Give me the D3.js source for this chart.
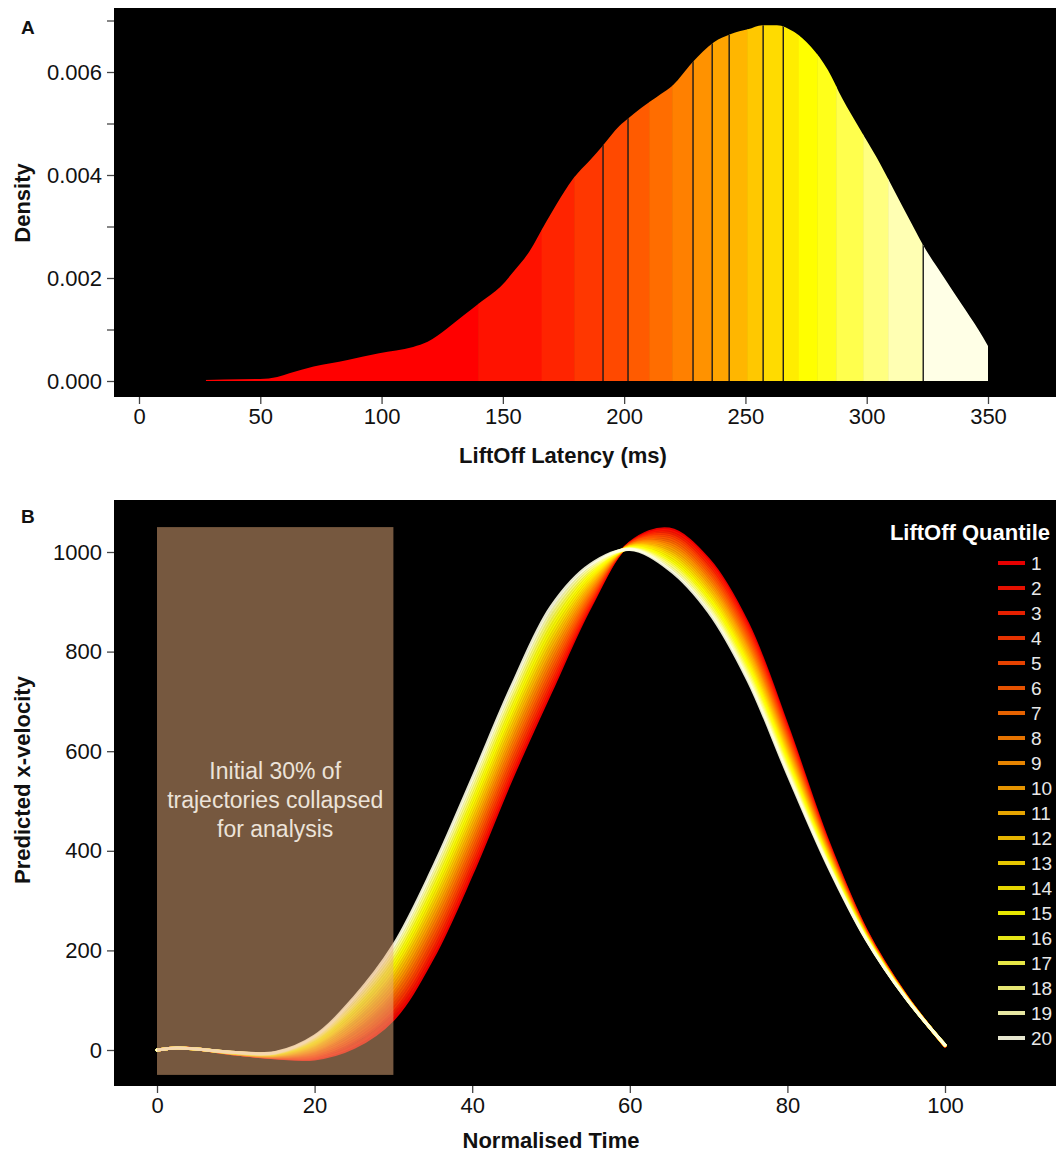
<!DOCTYPE html>
<html><head><meta charset="utf-8">
<script src="https://cdn.jsdelivr.net/npm/d3@7"></script>
<style>
html,body{margin:0;padding:0;background:#fff;}
svg{display:block;font-family:"Liberation Sans",Arial,sans-serif;}
</style></head>
<body><svg id="c" width="1056" height="1155"></svg>
<script>
// ---------- Panel A data ----------
const latencyMs = [27,35,50,57,62,72,86,99,113,119,127,134,141,149,154,161,168,172,179,186,191,198,202,207,215,220,228,237,244,251,257,263,270,277,284,290,297,304,311,318,323,332,339,346,350];
const densityVals = [0.00002,0.00003,0.00004,0.00008,0.00015,0.00028,0.00041,0.00054,0.00066,0.00076,0.00102,0.00128,0.00154,0.00183,0.00210,0.00252,0.00310,0.00342,0.00393,0.00429,0.00456,0.00495,0.00511,0.00530,0.00557,0.00574,0.00618,0.00658,0.00674,0.00683,0.00691,0.00691,0.00678,0.00649,0.00604,0.00548,0.00491,0.00435,0.00373,0.00310,0.00266,0.00200,0.00150,0.00100,0.00068];
const quantileBounds = [27.6,139.8,166,179.4,191.3,201.6,210.3,219.8,228.4,236.3,243.3,250.7,257.3,265.6,272,279.6,287.4,298.6,308.9,323.3,350];
const dividerLines = [191.3,201.6,228.4,236.3,243.3,257.3,265.6,323.3];
const heatColors = ["#FF0000","#FF1200","#FF2400","#FF3700","#FF4900","#FF5B00","#FF6D00","#FF8000","#FF9200","#FFA400","#FFB600","#FFC800","#FFDB00","#FFED00","#FFFF00","#FFFF1A","#FFFF4D","#FFFF80","#FFFFB3","#FFFFE6"];
const xTicksA = [0,50,100,150,200,250,300,350];
const yTicksA = [0,0.001,0.002,0.003,0.004,0.005,0.006,0.007];
const yLabelsA = [0,0.002,0.004,0.006];

// ---------- Panel B data ----------
const timePts = [0,2.5,5,10,15,20,25,30,35,40,45,50,55,60,65,70,75,80,85,90,95,100];
const vQ1  = [0,4,2,-8,-16,-18,5,62,185,355,545,720,890,1018,1046,985,855,650,425,240,110,8];
const vQ2  = [0,4,2,-8,-15,-16,10,70,194,365,555,729,894,1017,1042,980,849,645,422,239,110,8];
const vQ3  = [0,4,2,-8,-15,-13,16,78,204,375,564,738,899,1017,1037,974,843,640,420,238,109,8];
const vQ4  = [0,4,2,-8,-14,-11,21,85,213,385,574,747,903,1016,1033,968,837,635,417,237,109,8];
const vQ5  = [0,4,2,-7,-14,-8,26,93,223,395,584,756,908,1015,1029,963,831,630,415,236,109,8];
const vQ6  = [0,4,2,-7,-13,-6,31,101,232,405,594,765,912,1015,1025,957,825,625,412,235,109,9];
const vQ7  = [0,4,2,-7,-13,-3,37,109,242,415,603,774,917,1014,1020,952,819,620,409,234,108,9];
const vQ8  = [0,4,2,-7,-12,-1,42,117,251,425,613,783,921,1013,1016,946,813,615,407,233,108,9];
const vQ9  = [0,4,2,-7,-11,1,47,124,261,435,623,792,926,1013,1012,941,807,610,404,232,108,9];
const vQ10 = [0,4,2,-7,-11,4,52,132,270,445,633,801,930,1012,1008,935,802,605,401,231,108,9];
const vQ11 = [0,4,2,-6,-10,6,58,140,280,455,642,809,935,1011,1003,930,796,600,399,231,107,9];
const vQ12 = [0,4,2,-6,-10,9,63,148,289,465,652,818,939,1010,999,924,790,595,396,230,107,9];
const vQ13 = [0,4,2,-6,-9,11,68,156,299,475,662,827,944,1010,995,919,784,590,393,229,107,9];
const vQ14 = [0,4,2,-6,-8,13,73,163,308,485,672,836,948,1009,991,913,778,585,391,228,107,9];
const vQ15 = [0,4,2,-6,-8,16,79,171,318,495,681,845,953,1008,986,908,772,580,388,227,106,10];
const vQ16 = [0,4,2,-6,-7,18,84,179,327,505,691,854,957,1008,982,902,766,575,386,226,106,10];
const vQ17 = [0,4,2,-5,-7,21,89,187,337,515,701,863,962,1007,978,897,760,570,383,225,106,10];
const vQ18 = [0,4,2,-5,-6,23,94,194,346,525,711,872,966,1006,974,891,754,565,380,224,105,10];
const vQ19 = [0,4,2,-5,-6,26,100,202,356,535,720,881,971,1006,969,886,748,560,378,223,105,10];
const vQ20 = [0,4,2,-5,-5,28,105,210,365,545,730,890,975,1005,965,880,742,555,375,222,105,10];
const velocitySeries = [vQ1,vQ2,vQ3,vQ4,vQ5,vQ6,vQ7,vQ8,vQ9,vQ10,vQ11,vQ12,vQ13,vQ14,vQ15,vQ16,vQ17,vQ18,vQ19,vQ20];
const quantileLabels = ["1","2","3","4","5","6","7","8","9","10","11","12","13","14","15","16","17","18","19","20"];
const xTicksB = [0,20,40,60,80,100];
const yTicksB = [0,200,400,600,800,1000];
const collapsedRange = [0,30];
const collapsedV = [-50,1050];
const boxText = ["Initial 30% of","trajectories collapsed","for analysis"];

const svg = d3.select("#c");
const FS = 22;

// ================= Panel A =================
const xA = d3.scaleLinear().domain([0,350]).range([139,988]);
const yA = d3.scaleLinear().domain([0,0.006]).range([381,72]);
const gA = svg.append("g");
gA.append("rect").attr("x",114).attr("y",8).attr("width",1056-114).attr("height",397-8).attr("fill","#000");

const dens = latencyMs.map((m,i)=>({x:m,y:densityVals[i]}));
const areaA = d3.area().x(d=>xA(d.x)).y0(yA(0)).y1(d=>yA(d.y)).curve(d3.curveMonotoneX);
const defs = svg.append("defs");
defs.append("clipPath").attr("id","densClip").append("path").attr("d",areaA(dens));
const bandsG = gA.append("g").attr("clip-path","url(#densClip)");
for(let i=0;i<20;i++){
  bandsG.append("rect")
    .attr("x",xA(quantileBounds[i])).attr("width",xA(quantileBounds[i+1])-xA(quantileBounds[i])+0.6)
    .attr("y",yA(0.0075)).attr("height",yA(0)-yA(0.0075))
    .attr("fill",heatColors[i]);
}
bandsG.selectAll("line.div").data(dividerLines).enter().append("line")
  .attr("x1",d=>xA(d)).attr("x2",d=>xA(d)).attr("y1",yA(0)).attr("y2",yA(0.0075))
  .attr("stroke","#1a1a1a").attr("stroke-width",1.4);

// axes A
const axAx = d3.axisBottom(xA).tickValues(xTicksA).tickSize(7).tickPadding(4).tickFormat(d3.format("d"));
const gxA = gA.append("g").attr("transform","translate(0,397)").call(axAx);
gxA.select(".domain").remove();
const axAy = d3.axisLeft(yA).tickValues(yTicksA).tickSize(7).tickPadding(5)
  .tickFormat(d=> yLabelsA.some(v=>Math.abs(v-d)<1e-9) ? d3.format(".3f")(d) : "");
const gyA = gA.append("g").attr("transform","translate(114,0)").call(axAy);
gyA.select(".domain").remove();
[gxA,gyA].forEach(g=>{
  g.selectAll("text").attr("font-size",FS).attr("fill","#111").attr("font-family","Liberation Sans, Arial, sans-serif");
  g.selectAll("line").attr("stroke","#444").attr("stroke-width",1.3);
});
gA.append("text").attr("x",563).attr("y",463).attr("text-anchor","middle").attr("font-weight","bold").attr("font-size",FS).attr("fill","#111").text("LiftOff Latency (ms)");
gA.append("text").attr("transform","translate(30,203) rotate(-90)").attr("text-anchor","middle").attr("font-weight","bold").attr("font-size",FS).attr("fill","#111").text("Density");
gA.append("text").attr("x",21).attr("y",34).attr("font-weight","bold").attr("font-size",19).attr("fill","#111").text("A");

// ================= Panel B =================
const xB = d3.scaleLinear().domain([0,100]).range([157,945]);
const yB = d3.scaleLinear().domain([0,1000]).range([1050,552]);
const gB = svg.append("g");
gB.append("rect").attr("x",114).attr("y",500).attr("width",1056-114).attr("height",1086-500).attr("fill","#000");

const lineB = d3.line().x((d,i)=>xB(timePts[i])).y(d=>yB(d)).curve(d3.curveCatmullRom.alpha(0.5));
const linesG = gB.append("g");
velocitySeries.forEach((s,k)=>{
  linesG.append("path").attr("d",lineB(s)).attr("fill","none")
    .attr("stroke",heatColors[k]).attr("stroke-opacity",0.9).attr("stroke-width",3)
    .attr("stroke-linecap","round");
});

// collapsed region overlay
gB.append("rect")
  .attr("x",xB(collapsedRange[0])).attr("width",xB(collapsedRange[1])-xB(collapsedRange[0]))
  .attr("y",yB(collapsedV[1])).attr("height",yB(collapsedV[0])-yB(collapsedV[1]))
  .attr("fill","rgb(236,176,126)").attr("fill-opacity",0.5);
const cx = xB((collapsedRange[0]+collapsedRange[1])/2);
boxText.forEach((t,i)=>{
  gB.append("text").attr("x",cx).attr("y",771+i*29).attr("dy","0.35em").attr("text-anchor","middle")
    .attr("font-size",23).attr("fill","#ece3d9").text(t);
});

// axes B
const axBx = d3.axisBottom(xB).tickValues(xTicksB).tickSize(7).tickPadding(4).tickFormat(d3.format("d"));
const gxB = gB.append("g").attr("transform","translate(0,1086)").call(axBx);
gxB.select(".domain").remove();
const axBy = d3.axisLeft(yB).tickValues(yTicksB).tickSize(7).tickPadding(5).tickFormat(d3.format("d"));
const gyB = gB.append("g").attr("transform","translate(114,0)").call(axBy);
gyB.select(".domain").remove();
[gxB,gyB].forEach(g=>{
  g.selectAll("text").attr("font-size",FS).attr("fill","#111").attr("font-family","Liberation Sans, Arial, sans-serif");
  g.selectAll("line").attr("stroke","#444").attr("stroke-width",1.3);
});
gB.append("text").attr("x",551).attr("y",1148).attr("text-anchor","middle").attr("font-weight","bold").attr("font-size",FS).attr("fill","#111").text("Normalised Time");
gB.append("text").attr("transform","translate(30,780) rotate(-90)").attr("text-anchor","middle").attr("font-weight","bold").attr("font-size",FS).attr("fill","#111").text("Predicted x-velocity");
gB.append("text").attr("x",21).attr("y",523).attr("font-weight","bold").attr("font-size",19).attr("fill","#111").text("B");

// legend
const lg = gB.append("g");
lg.append("text").attr("x",1050).attr("y",532).attr("dy","0.35em").attr("text-anchor","end").attr("font-weight","bold").attr("font-size",FS).attr("fill","#fff").text("LiftOff Quantile");
quantileLabels.forEach((lab,k)=>{
  const y = 563 + k*25;
  lg.append("line").attr("x1",998).attr("x2",1025).attr("y1",y).attr("y2",y)
    .attr("stroke",heatColors[k]).attr("stroke-opacity",0.9).attr("stroke-width",4);
  lg.append("text").attr("x",1031).attr("y",y).attr("dy","0.36em").attr("font-size",19).attr("fill","#e8e8e8").text(lab);
});
</script></body></html>
